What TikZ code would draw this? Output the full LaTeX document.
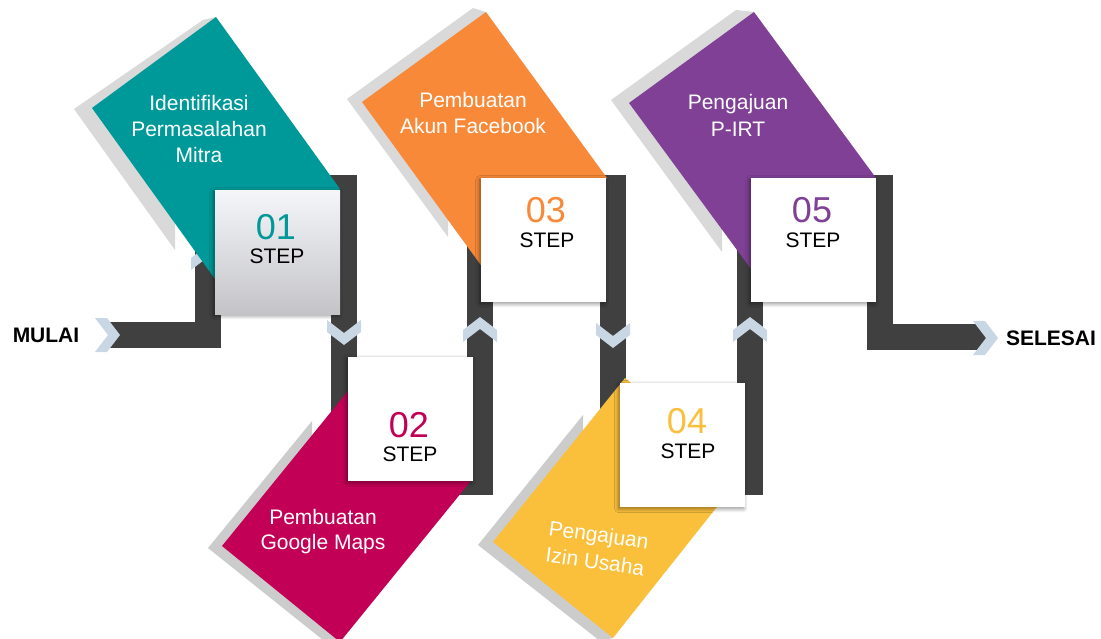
\documentclass[tikz,border=0pt]{standalone}
\usepackage{fontspec}
\setmainfont{Liberation Sans}
\usetikzlibrary{shadows.blur}

\definecolor{barc}{RGB}{64,64,64}
\definecolor{chevc}{RGB}{201,214,227}
\definecolor{tealc}{RGB}{0,153,153}
\definecolor{pinkc}{RGB}{194,0,86}
\definecolor{orangec}{RGB}{248,137,56}
\definecolor{yellowc}{RGB}{251,192,59}
\definecolor{purplec}{RGB}{127,64,150}
\definecolor{shadeup}{RGB}{217,217,217}
\definecolor{shadedn}{RGB}{204,204,204}
\definecolor{boxtop}{RGB}{245,246,250}
\definecolor{boxbot}{RGB}{196,196,199}

\begin{document}
\begin{tikzpicture}[x=1pt,y=-1pt,
  bar/.style={draw=barc, line width=26pt, line join=miter},
  chev/.pic={\fill[chevc] (-25,-17) -- (-13,-17) -- (0,0) -- (-13,17) -- (-25,17) -- (-12,0) -- cycle;},
  stepbox/.style={fill=white, minimum width=125pt, minimum height=124pt, inner sep=0pt,
    anchor=north west,
    blur shadow={shadow xshift=-1.5pt, shadow yshift=-1.5pt, shadow blur radius=4pt,
      shadow blur steps=8, shadow opacity=45}},
  num/.style={font=\fontsize{36}{36}\selectfont, inner sep=0pt},
  steplbl/.style={font=\fontsize{21}{21}\selectfont, inner sep=0pt, text=black},
  lbl/.style={text=white, align=center, inner sep=0pt},
  endlbl/.style={font=\bfseries\fontsize{21}{21}\selectfont, inner sep=0pt, text=black}]

\useasboundingbox (0,0) rectangle (1101,639);

% path corners of the dark track
\coordinate (start) at (110,335);
\coordinate (c1) at (208,335);  \coordinate (c2) at (208,188);
\coordinate (c3) at (344,188);  \coordinate (c4) at (344,482);
\coordinate (c5) at (480,482);  \coordinate (c6) at (480,188);
\coordinate (c7) at (613,188);  \coordinate (c8) at (613,482);
\coordinate (c9) at (750,482);  \coordinate (c10) at (750,188);
\coordinate (c11) at (880,188); \coordinate (c12) at (880,337);
\coordinate (finish) at (986,337);

% dark track
\draw[bar] (start) -- (c1) -- (c2) -- (c3) -- (c4) -- (c5) -- (c6) -- (c7)
  -- (c8) -- (c9) -- (c10) -- (c11) -- (c12) -- (finish);

% direction chevrons on the track
\pic at (120,335) {chev};
\pic[rotate=90] at (208,245) {chev};
\pic[rotate=-90] at (344,345) {chev};
\pic[rotate=90] at (480,317) {chev};
\pic[rotate=-90] at (613,348) {chev};
\pic[rotate=90] at (750,317) {chev};
\pic at (998,338) {chev};

% grey backing shadows of the tilted panels
\fill[shadeup] (203,20) -- (74,109) -- (175,250) -- (175,215) -- (216,17) -- cycle;
\fill[shadedn] (312,421) -- (208,548) -- (328,644) -- (340,642) -- (312,442) -- cycle;
\fill[shadeup] (473,8) -- (347,99) -- (448,237) -- (448,212) -- (486,12) -- cycle;
\fill[shadedn] (583,415) -- (478,545) -- (600,641) -- (613,638) -- (583,442) -- cycle;
\fill[shadeup] (736,10) -- (611,100) -- (722,252) -- (722,222) -- (754,12) -- cycle;

% tilted coloured panels
\fill[tealc] (216,17) -- (92,108) -- (215,279) -- (340,189) -- cycle;
\fill[pinkc] (222,546) -- (352,386) -- (470,482) -- (340,642) -- cycle;
\fill[orangec] (486,12) -- (362,102) -- (483,268) -- (607,178) -- cycle;
\fill[yellowc] (493,542) -- (625,378) -- (743,474) -- (613,638) -- cycle;
\fill[purplec] (754,12) -- (629,103) -- (751,269) -- (876,178) -- cycle;

% panel captions
\node[lbl, font=\fontsize{21}{26}\selectfont] (t1) at (199,129) {Identifikasi\\Permasalahan\\Mitra};
\node[lbl, font=\fontsize{21}{25}\selectfont] (t2) at (323,532) {Pembuatan\\Google Maps};
\node[lbl, font=\fontsize{21}{26}\selectfont] (t3) at (473,113) {Pembuatan\\Akun Facebook};
\node[lbl, font=\fontsize{21}{27}\selectfont, rotate=-8] (t4) at (597,548) {Pengajuan\\Izin Usaha};
\node[lbl, font=\fontsize{21}{27}\selectfont] (t5) at (738,115) {Pengajuan\\P-IRT};

% step boxes
\node[stepbox, fill=none, top color=boxtop, bottom color=boxbot] (b1) at (215,190) {};
\node[stepbox] (b2) at (348,357) {};
\node[stepbox] (b3) at (481,178) {};
\node[stepbox] (b4) at (620,383) {};
\node[stepbox] (b5) at (751,178) {};

\node[num, text=tealc] (n1) at (276,227) {01};
\node[steplbl] (s1) at (277,256) {STEP};
\node[num, text=pinkc] (n2) at (409,425) {02};
\node[steplbl] (s2) at (410,454) {STEP};
\node[num, text=orangec] (n3) at (546,210) {03};
\node[steplbl] (s3) at (547,240) {STEP};
\node[num, text=yellowc] (n4) at (687,421) {04};
\node[steplbl] (s4) at (688,451) {STEP};
\node[num, text=purplec] (n5) at (812,210) {05};
\node[steplbl] (s5) at (813,240) {STEP};

% start and end labels
\node[endlbl] (mulai) at (46,335) {MULAI};
\node[endlbl] (selesai) at (1051,338) {SELESAI};
\end{tikzpicture}
\end{document}
